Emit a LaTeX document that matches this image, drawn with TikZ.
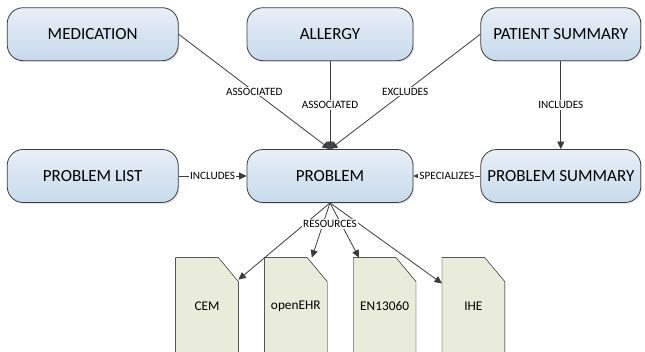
\documentclass[tikz,border=0pt]{standalone}
\usepackage{fontspec}
\setmainfont{Carlito}
\usetikzlibrary{arrows.meta, positioning, shadows, backgrounds}

\definecolor{boxtop}{RGB}{232,239,247}
\definecolor{boxbot}{RGB}{199,218,234}
\definecolor{docfill}{RGB}{233,236,219}
\definecolor{linegray}{RGB}{60,60,60}

\begin{document}
\begin{tikzpicture}[
    x=1pt, y=-1pt,
    node distance=68pt,
    color=linegray,
    line width=0.8pt,
    box/.style={
        rectangle, draw, rounded corners=16pt,
        top color=boxtop, bottom color=boxbot,
        minimum width=166pt, minimum height=53pt, inner xsep=3pt, align=center,
        font=\fontsize{17}{20}\selectfont,
        drop shadow={shadow xshift=1.2pt, shadow yshift=-1.5pt, opacity=0.2}
    },
    doc/.style={
        rectangle, minimum width=62pt, minimum height=96pt,
        font=\fontsize{13.3}{16}\selectfont
    },
    lbl/.style={fill=white, inner sep=1pt, font=\fontsize{11.2}{13}\selectfont},
    >={Triangle[length=7.5pt, width=7pt]},
    every node/.style={text=black}
]
\useasboundingbox (0,0) rectangle (645,352);

\node[box] (problem) at (330,176) {PROBLEM};
\node[box, above=88pt of problem] (allergy) {ALLERGY};
\node[box, left=of allergy, minimum width=171pt] (medication) {MEDICATION};
\node[box, right=67pt of allergy, minimum width=160pt] (patient) {PATIENT SUMMARY};
\node[box, left=of problem, minimum width=171pt] (problist) {PROBLEM LIST};
\node[box, right=67pt of problem, minimum width=160pt] (probsum) {PROBLEM SUMMARY};

\node[doc] (cem) at (207,306) {CEM};
\node[doc, right=26pt of cem] (openehr) {openEHR};
\node[doc, right=26pt of openehr] (en) {EN13060};
\node[doc, right=26pt of en] (ihe) {IHE};

% document sheets with folded corner
\begin{scope}[on background layer]
\foreach \d in {cem, openehr, en, ihe}
    \draw[fill=docfill] (\d.north west) -- ([xshift=-20pt]\d.north east)
        -- ([yshift=-24pt]\d.north east) -- (\d.south east)
        -- (\d.south west) -- cycle;
\end{scope}

\draw[->] (medication.east) -- node[lbl] {ASSOCIATED} (problem.north);
\draw[->] (allergy) -- node[lbl] {ASSOCIATED} (problem.north);
\draw[->] (patient.west) -- node[lbl] {EXCLUDES} (problem.north);
\draw[->] (patient) -- node[lbl] {INCLUDES} (probsum);
\draw[->] (problist) -- node[lbl] {INCLUDES} (problem);
\draw[->] (probsum) -- node[lbl] {SPECIALIZES} (problem);

\draw[->] (problem.south) -- (cem);
\draw[->] (problem.south) -- (openehr);
\draw[->] (problem.south) -- (en);
\draw[->] (problem.south) -- (ihe);
\node[lbl] (resources) at ([yshift=-21pt]problem.south) {RESOURCES};

\end{tikzpicture}
\end{document}
